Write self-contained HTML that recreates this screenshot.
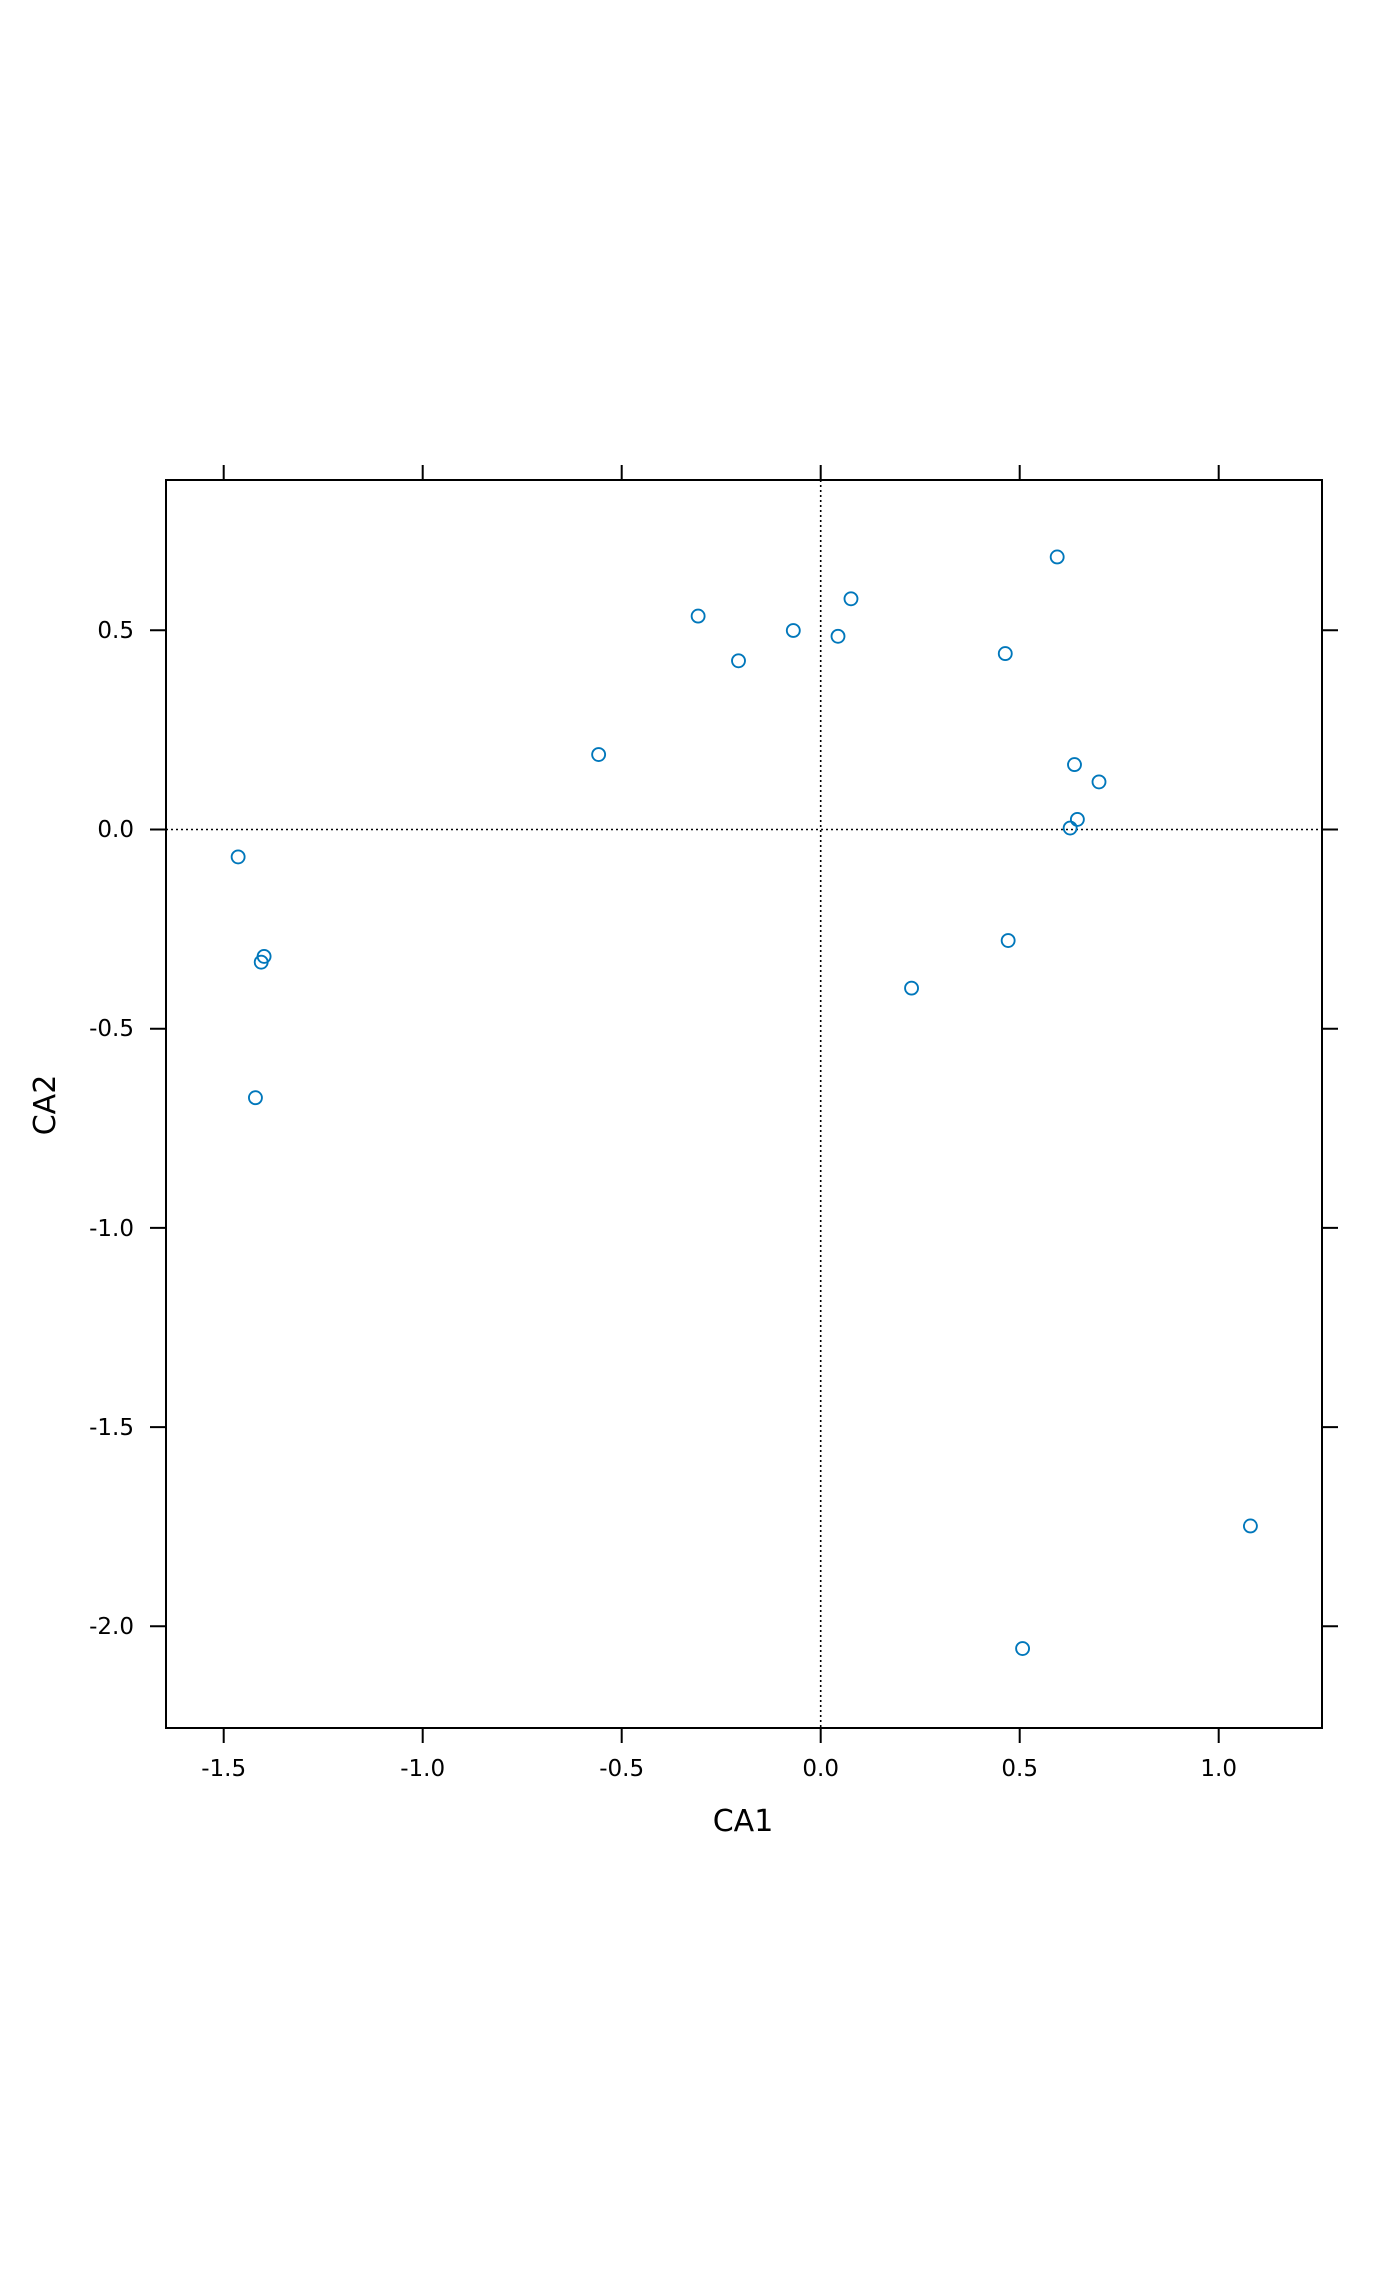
<!DOCTYPE html>
<html><head><meta charset="utf-8"><style>html,body{margin:0;padding:0;background:#fff}</style></head>
<body>
<svg width="1400" height="2266" viewBox="0 0 1400 2266" xmlns="http://www.w3.org/2000/svg" font-family="DejaVu Sans, Liberation Sans, sans-serif">
<rect width="1400" height="2266" fill="#fff"/>
<g stroke="#000" stroke-width="2" fill="none">
<rect x="166" y="480" width="1156" height="1248"/>
<path d="M223.7 480v-15M422.7 480v-15M621.7 480v-15M820.7 480v-15M1019.7 480v-15M1218.7 480v-15"/>
<path d="M223.7 1728v15M422.7 1728v15M621.7 1728v15M820.7 1728v15M1019.7 1728v15M1218.7 1728v15"/>
<path d="M166 630.3h-16M166 829.5h-16M166 1028.7h-16M166 1227.9h-16M166 1427.1h-16M166 1626.3h-16"/>
<path d="M1322 630.3h16M1322 829.5h16M1322 1028.7h16M1322 1227.9h16M1322 1427.1h16M1322 1626.3h16"/>
</g>
<g stroke="#000" stroke-width="1.6" stroke-dasharray="2,3">
<line x1="820.7" y1="480" x2="820.7" y2="1728"/>
<line x1="166" y1="829.5" x2="1322" y2="829.5"/>
</g>
<g font-size="23" fill="#000" text-anchor="middle">
<text x="223.7" y="1776">-1.5</text>
<text x="422.7" y="1776">-1.0</text>
<text x="621.7" y="1776">-0.5</text>
<text x="820.7" y="1776">0.0</text>
<text x="1019.7" y="1776">0.5</text>
<text x="1218.7" y="1776">1.0</text>
</g>
<g font-size="23" fill="#000" text-anchor="end">
<text x="134" y="638">0.5</text>
<text x="134" y="837">0.0</text>
<text x="134" y="1036">-0.5</text>
<text x="134" y="1236">-1.0</text>
<text x="134" y="1435">-1.5</text>
<text x="134" y="1634">-2.0</text>
</g>
<text x="743" y="1831" font-size="30" text-anchor="middle">CA1</text>
<text transform="translate(55 1105) rotate(-90)" font-size="30" text-anchor="middle">CA2</text>
<g transform="translate(820.7 829.5) scale(1.442) translate(-568 -574)" fill="none" stroke="#0077bb" stroke-width="1.3">
<circle cx="732" cy="385" r="4.5"/><circle cx="589" cy="414" r="4.5"/><circle cx="483" cy="426" r="4.5"/>
<circle cx="549" cy="436" r="4.5"/><circle cx="580" cy="440" r="4.5"/><circle cx="511" cy="457" r="4.5"/>
<circle cx="696" cy="452" r="4.5"/><circle cx="414" cy="522" r="4.5"/><circle cx="744" cy="529" r="4.5"/>
<circle cx="761" cy="541" r="4.5"/><circle cx="746" cy="567" r="4.5"/><circle cx="741" cy="573" r="4.5"/>
<circle cx="164" cy="593" r="4.5"/><circle cx="182" cy="662" r="4.5"/><circle cx="180" cy="666" r="4.5"/>
<circle cx="698" cy="651" r="4.5"/><circle cx="631" cy="684" r="4.5"/><circle cx="176" cy="760" r="4.5"/>
<circle cx="866" cy="1057" r="4.5"/><circle cx="708" cy="1142" r="4.5"/>
</g>
</svg>
</body></html>
